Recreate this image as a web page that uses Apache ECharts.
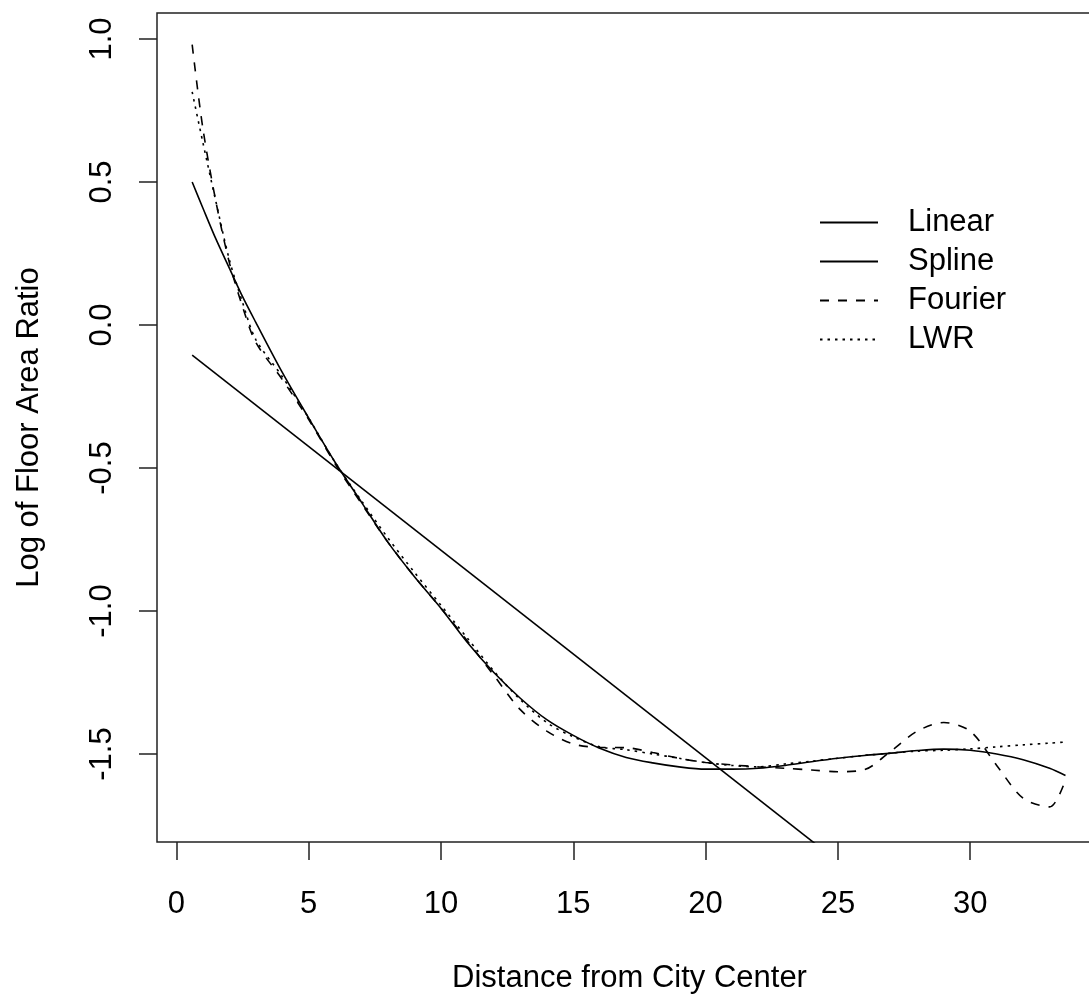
<!DOCTYPE html>
<html lang="en">
<head>
    <meta charset="UTF-8">
    <title>Floor Area Ratio vs Distance</title>
    <style>
        html, body { margin: 0; background: #fff; overflow: hidden; }
        /* plot box runs past the right edge of the window, as in the original */
        #main { width: 1110px; height: 1000px; }
    </style>
</head>
<body>
    <div id="main"></div>
    <script src="https://cdn.jsdelivr.net/npm/echarts@6/dist/echarts.min.js"></script>
    <script>
        // distances (miles from city center) where the fitted curves are sampled
        const distance = [0.6, 1.0, 1.5, 2, 2.5, 3, 4, 5, 6, 7, 8, 9, 10, 11, 12, 13, 14, 15, 16, 17,
                          18, 19, 20, 21, 22, 23, 24, 25, 26, 27, 28, 29, 30, 31, 32, 33, 33.6];

        const spline  = [0.50, 0.41, 0.30, 0.20, 0.10, 0.01, -0.165, -0.325, -0.48, -0.62, -0.76, -0.88, -0.99, -1.11, -1.215, -1.305, -1.38, -1.435, -1.48, -1.512,
                         -1.531, -1.545, -1.553, -1.553, -1.55, -1.54, -1.527, -1.515, -1.505, -1.497, -1.488, -1.483, -1.487, -1.50, -1.52, -1.55, -1.575];
        const fourier = [0.98, 0.69, 0.43, 0.22, 0.065, -0.06, -0.19, -0.33, -0.485, -0.625, -0.76, -0.88, -0.99, -1.105, -1.225, -1.345, -1.42, -1.465, -1.477, -1.478,
                         -1.495, -1.515, -1.53, -1.538, -1.545, -1.55, -1.556, -1.562, -1.555, -1.49, -1.42, -1.39, -1.42, -1.54, -1.655, -1.685, -1.59];
        const lwr     = [0.815, 0.64, 0.43, 0.23, 0.08, -0.05, -0.18, -0.325, -0.48, -0.615, -0.745, -0.865, -0.98, -1.095, -1.21, -1.31, -1.39, -1.44, -1.475, -1.485,
                         -1.50, -1.515, -1.53, -1.54, -1.545, -1.535, -1.525, -1.515, -1.505, -1.497, -1.49, -1.487, -1.482, -1.475, -1.468, -1.462, -1.458];

        // straight-line fit: only its two ends
        const linearX = [0.6, 33.6];
        const linearY = [-0.105, -2.50];

        const xTicks = [0, 5, 10, 15, 20, 25, 30];
        const yTicks = [-1.5, -1.0, -0.5, 0.0, 0.5, 1.0];

        const font = 'Liberation Sans, Arial, sans-serif';
        const zip = (xs, ys) => xs.map((x, i) => [x, ys[i]]);

        const myChart = echarts.init(document.getElementById('main'));
        const baseLine = { type: 'line', symbol: 'none', clip: true, smooth: 0.3, silent: true,
                           itemStyle: { color: '#000' } };

        const option = {
            animation: false,
            backgroundColor: '#fff',
            textStyle: { fontFamily: font, color: '#000' },
            grid: {
                left: 157, top: 13, width: 945, height: 829,
                show: true, borderColor: '#222', borderWidth: 1.5, backgroundColor: 'transparent'
            },
            legend: {
                orient: 'vertical',
                left: 814, top: 202,
                itemWidth: 58, itemHeight: 14, itemGap: 8,
                itemStyle: { opacity: 0 },
                textStyle: { fontFamily: font, fontSize: 31, color: '#000', lineHeight: 31, padding: [0, 0, 0, 25] },
                data: ['Linear', 'Spline', 'Fourier', 'LWR']
            },
            xAxis: {
                type: 'value',
                min: -0.729, max: 34.98,
                name: 'Distance from City Center',
                nameLocation: 'middle',
                nameGap: 121,
                nameTextStyle: { fontFamily: font, fontSize: 31, color: '#000' },
                axisLine: { show: false, onZero: false },
                axisTick: { show: true, inside: false, length: 18, customValues: xTicks,
                            lineStyle: { color: '#222', width: 1.5 } },
                axisLabel: { customValues: xTicks, margin: 47, fontSize: 31, color: '#000', fontFamily: font },
                splitLine: { show: false }
            },
            yAxis: {
                type: 'value',
                min: -1.8077, max: 1.0909,
                name: 'Log of Floor Area Ratio',
                nameLocation: 'middle',
                nameRotate: 90,
                nameGap: 112,
                nameTextStyle: { fontFamily: font, fontSize: 31, color: '#000' },
                axisLine: { show: false, onZero: false },
                axisTick: { show: true, inside: false, length: 18, customValues: yTicks,
                            lineStyle: { color: '#222', width: 1.5 } },
                axisLabel: { customValues: yTicks, rotate: 90, margin: 39, fontSize: 31, color: '#000', fontFamily: font,
                             formatter: v => v.toFixed(1) },
                splitLine: { show: false }
            },
            series: [
                Object.assign({}, baseLine, { name: 'Linear', smooth: false, data: zip(linearX, linearY),
                    lineStyle: { color: '#000', width: 1.6, type: 'solid' } }),
                Object.assign({}, baseLine, { name: 'Spline', data: zip(distance, spline),
                    lineStyle: { color: '#000', width: 1.6, type: 'solid' } }),
                Object.assign({}, baseLine, { name: 'Fourier', data: zip(distance, fourier),
                    lineStyle: { color: '#000', width: 1.6, type: [9, 9] } }),
                Object.assign({}, baseLine, { name: 'LWR', data: zip(distance, lwr),
                    lineStyle: { color: '#000', width: 1.6, type: [2.5, 5] } })
            ]
        };
        myChart.setOption(option);
    </script>
</body>
</html>
